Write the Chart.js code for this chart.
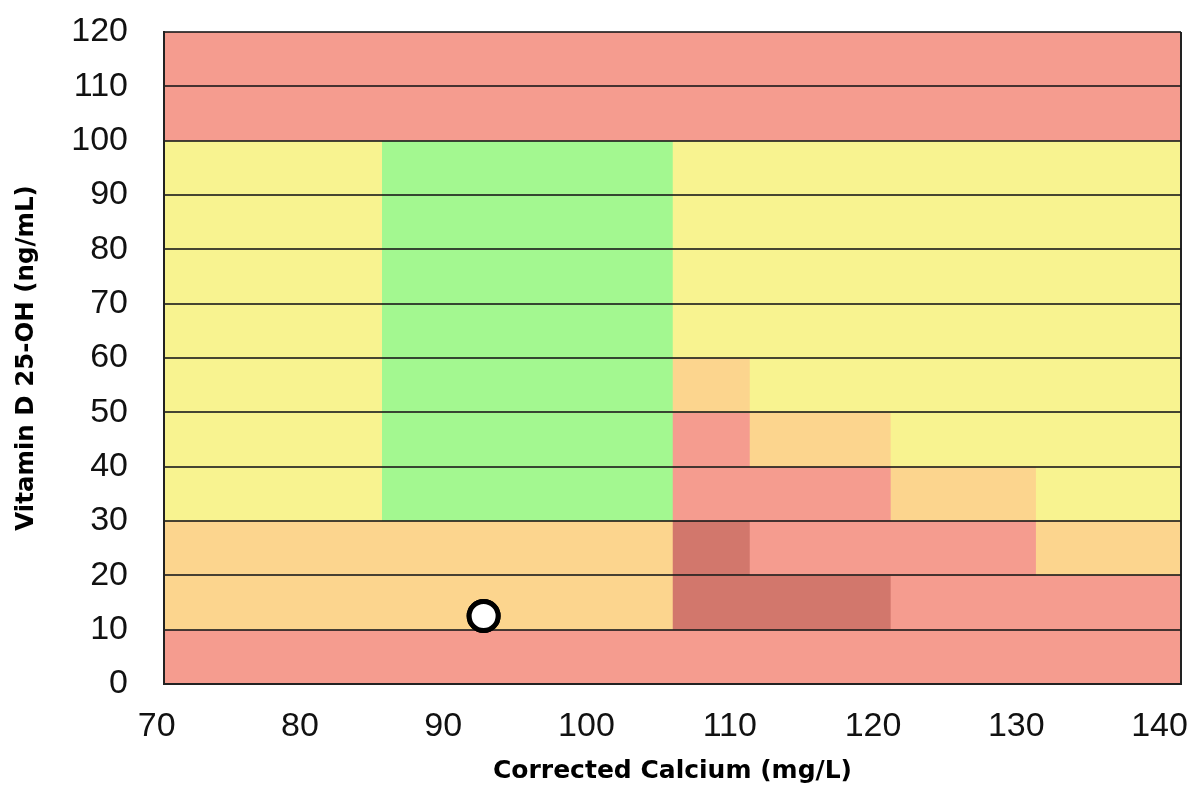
<!DOCTYPE html>
<html>
<head>
<meta charset="utf-8">
<script src="https://cdn.jsdelivr.net/npm/chart.js@4.4.1/dist/chart.umd.min.js"></script>
<style>
  html, body { margin: 0; padding: 0; background: #fff; }
</style>
</head>
<body>
<canvas id="grafico" width="1196" height="788"></canvas>
<script>
// eixos
const ticksX = [70, 80, 90, 100, 110, 120, 130, 140];
const ticksY = [0, 10, 20, 30, 40, 50, 60, 70, 80, 90, 100, 110, 120];

// faixas horizontais (limite inferior e superior de Vitamina D)
const faixaInicio = [0, 10, 20, 30, 40, 50, 60, 100];
const faixaFim    = [10, 20, 30, 40, 50, 60, 100, 120];

// cortes de calcio dentro de cada faixa e a zona de cada trecho
const cortesCalcio = [
  [70, 140],
  [70, 105, 120, 140],
  [70, 105, 110.3, 130, 140],
  [70, 85, 105, 120, 130, 140],
  [70, 85, 105, 110.3, 120, 140],
  [70, 85, 105, 110.3, 140],
  [70, 85, 105, 140],
  [70, 140]
];
const zonasFaixa = [
  ['vermelho'],
  ['laranja', 'escuro', 'vermelho'],
  ['laranja', 'escuro', 'vermelho', 'laranja'],
  ['amarelo', 'verde', 'vermelho', 'laranja', 'amarelo'],
  ['amarelo', 'verde', 'vermelho', 'laranja', 'amarelo'],
  ['amarelo', 'verde', 'laranja', 'amarelo'],
  ['amarelo', 'verde', 'amarelo'],
  ['vermelho']
];

// paciente
const pacienteCalcio = [92];
const pacienteVitD = [12.5];

const coresZona = {
  vermelho: '#f59c8f',
  laranja: '#fcd58e',
  amarelo: '#f8f390',
  verde: '#a3f890',
  escuro: '#d2776c'
};

const zonas = [];
faixaInicio.forEach((y0, i) => {
  const y1 = faixaFim[i];
  const cortes = cortesCalcio[i];
  const fimFaixa = cortes[cortes.length - 1];
  // cada trecho vai ate o fim da faixa; o proximo pinta por cima (evita frestas)
  zonasFaixa[i].forEach((zona, j) => {
    zonas.push({
      type: 'line',
      xAxisID: 'x',
      data: [{ x: cortes[j], y: y1 }, { x: fimFaixa, y: y1 }],
      fill: { value: y0 },
      backgroundColor: coresZona[zona],
      borderColor: 'transparent',
      borderWidth: 0,
      pointRadius: 0,
      tension: 0
    });
  });
});

// Chart.js desenha o primeiro dataset por cima, entao inverte
const datasets = [{
  type: 'scatter',
  xAxisID: 'x',
  data: pacienteCalcio.map((x, i) => ({ x: x, y: pacienteVitD[i] })),
  pointRadius: 14.5,
  pointBorderWidth: 5,
  pointBackgroundColor: '#ffffff',
  pointBorderColor: '#000000'
}].concat(zonas.reverse());

// ponto por cima das linhas de grade
const pontoPorCima = {
  id: 'pontoPorCima',
  afterDraw(chart) {
    const meta = chart.getDatasetMeta(0);
    meta.data.forEach(p => p.draw(chart.ctx, chart.chartArea));
  }
};

const fonteTick = { family: '"Liberation Sans", Arial, sans-serif', size: 34 };
const fonteTitulo = { family: '"DejaVu Sans", Verdana, sans-serif', size: 25, weight: 'bold' };

new Chart(document.getElementById('grafico').getContext('2d'), {
  type: 'scatter',
  data: { datasets: datasets },
  options: {
    responsive: false,
    animation: false,
    layout: { autoPadding: false, padding: { left: 0, top: 32, right: 15, bottom: 0 } },
    plugins: {
      legend: { display: false },
      tooltip: { enabled: false }
    },
    scales: {
      x: {
        type: 'linear',
        position: 'bottom',
        weight: 0,
        min: ticksX[0],
        max: ticksX[ticksX.length - 1],
        afterBuildTicks: scale => { scale.ticks = ticksX.map(v => ({ value: v })); },
        ticks: { display: false },
        grid: {
          z: 1,
          drawTicks: false,
          lineWidth: 2,
          color: ctx => (ctx.tick && ctx.tick.value === 140) ? '#222' : 'transparent'
        },
        border: { display: true, color: '#222', width: 2, z: 2 },
        afterFit: scale => {
          scale.height = 0;
          scale.paddingLeft = 0;
          scale.paddingRight = 0;
        }
      },
      // eixo so para os rotulos, que no original ficam um pouco mais juntos
      xRotulo: {
        type: 'linear',
        position: 'bottom',
        weight: 1,
        min: 70.51,
        max: 141.5,
        afterBuildTicks: scale => { scale.ticks = ticksX.map(v => ({ value: v })); },
        ticks: { color: '#111', font: fonteTick, padding: 22, maxRotation: 0, autoSkip: false },
        grid: { display: false, drawTicks: false },
        border: { display: false },
        title: {
          display: true,
          text: 'Corrected Calcium (mg/L)',
          color: '#000',
          font: fonteTitulo,
          padding: { top: 2, bottom: 2 }
        },
        afterFit: scale => {
          scale.height = 104;
          scale.paddingLeft = 0;
          scale.paddingRight = 0;
        }
      },
      y: {
        type: 'linear',
        min: ticksY[0],
        max: ticksY[ticksY.length - 1],
        afterBuildTicks: scale => { scale.ticks = ticksY.map(v => ({ value: v })); },
        ticks: { color: '#111', font: fonteTick, padding: 36 },
        grid: {
          z: 1,
          drawTicks: false,
          lineWidth: 2,
          color: 'rgba(25, 25, 25, 0.8)'
        },
        border: { display: true, color: '#222', width: 2, z: 2 },
        title: {
          display: true,
          text: 'Vitamin D 25-OH (ng/mL)',
          color: '#000',
          font: { family: fonteTitulo.family, size: 24.5, weight: 'bold' },
          padding: { top: 12, bottom: 0 }
        },
        afterFit: scale => {
          scale.width = 164;
          scale.paddingTop = 0;
          scale.paddingBottom = 0;
        }
      }
    }
  },
  plugins: [pontoPorCima]
});
</script>
</body>
</html>
